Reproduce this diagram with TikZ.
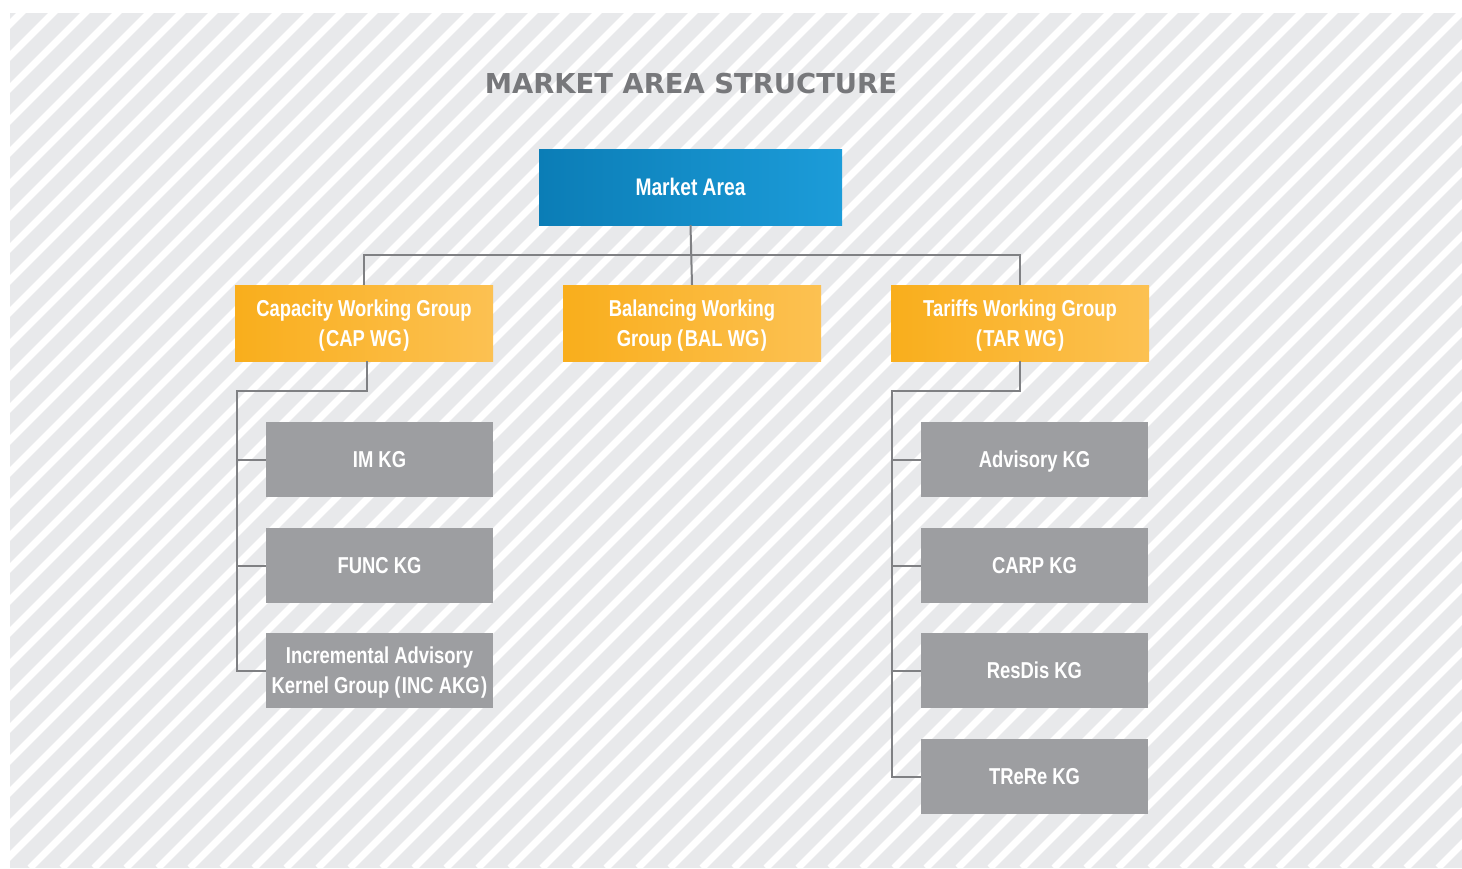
\documentclass[tikz,border=0pt]{standalone}
\usepackage{fontspec}
\newfontfamily\condfont[FakeStretch=0.8]{Liberation Sans Bold}
\newfontfamily\titlefont{DejaVu Sans Bold}
\definecolor{bggray}{HTML}{E8E9EB}
\definecolor{linegray}{HTML}{7F8083}
\definecolor{boxgray}{HTML}{9D9EA1}
\definecolor{titlegray}{HTML}{77787B}
\definecolor{orL}{HTML}{F9AE1C}
\definecolor{orR}{HTML}{FCC152}
\definecolor{blL}{HTML}{0B7DB6}
\definecolor{blR}{HTML}{1C9CD9}
\newcommand{\pk}{\kern1.5pt}
\tikzset{
  boxtext/.style={text=white, font=\condfont\fontsize{23}{30}\selectfont, align=center, inner sep=0pt, text depth=0pt},
  bluebox/.style={boxtext, minimum width=303pt, minimum height=76pt, left color=blL, right color=blR, shading angle=90},
  wgbox/.style={boxtext, minimum width=258pt, minimum height=76pt, left color=orL, right color=orR},
  kgbox/.style={boxtext, minimum width=227pt, minimum height=75pt, fill=boxgray},
  conn/.style={draw=linegray, line width=2pt},
}
\begin{document}
\begin{tikzpicture}[x=1pt,y=-1pt]
\useasboundingbox (0,0) rectangle (1462,868);
% hatched background
\begin{scope}
  \clip (10,13) rectangle (1462,868);
  \fill[bggray] (10,13) rectangle (1462,868);
  \foreach \k in {0,...,73} {
    \draw[white, line width=7pt] ({2+32*\k-868},868) -- ++(868,-868);
  }
\end{scope}
% title
\node[text=titlegray, font=\titlefont\fontsize{27.4}{30}\selectfont, inner sep=0pt] (title) at (691,84) {MARKET AREA STRUCTURE};
% nodes
\node[bluebox, font=\condfont\fontsize{24}{30}\selectfont] (ma) at (690.5,187) {Market Area};
\node[wgbox] (cap) at (364,323) {Capacity Working Group\\(\pk CAP WG\pk)};
\node[wgbox] (bal) at (692,323) {Balancing Working\\Group (\pk BAL WG\pk)};
\node[wgbox] (tar) at (1020,323) {Tariffs Working Group\\(\pk TAR WG\pk)};
\node[kgbox] (im) at (379.5,459.5) {IM KG};
\node[kgbox] (func) at (379.5,565.5) {FUNC KG};
\node[kgbox] (inc) at (379.5,670.5) {Incremental Advisory\\Kernel Group (\pk INC AKG\pk)};
\node[kgbox] (adv) at (1034.5,459.5) {Advisory KG};
\node[kgbox] (carp) at (1034.5,565.5) {CARP KG};
\node[kgbox] (resdis) at (1034.5,670.5) {ResDis KG};
\node[kgbox] (trere) at (1034.5,776.5) {TReRe KG};
% bus coordinates
\coordinate (topbus) at (691,255);
\coordinate (capbus) at (237,391);
\coordinate (tarbus) at (892,391);
% connectors
\draw[conn] (ma.south) -- (bal.north);
\draw[conn] (cap.north) |- (topbus) -| (tar.north);
\draw[conn] ([xshift=3pt]cap.south) |- (capbus) -- (capbus |- inc.west) -- (inc.west);
\draw[conn] (capbus |- im.west) -- (im.west);
\draw[conn] (capbus |- func.west) -- (func.west);
\draw[conn] (tar.south) |- (tarbus) -- (tarbus |- trere.west) -- (trere.west);
\draw[conn] (tarbus |- adv.west) -- (adv.west);
\draw[conn] (tarbus |- carp.west) -- (carp.west);
\draw[conn] (tarbus |- resdis.west) -- (resdis.west);
\end{tikzpicture}
\end{document}
